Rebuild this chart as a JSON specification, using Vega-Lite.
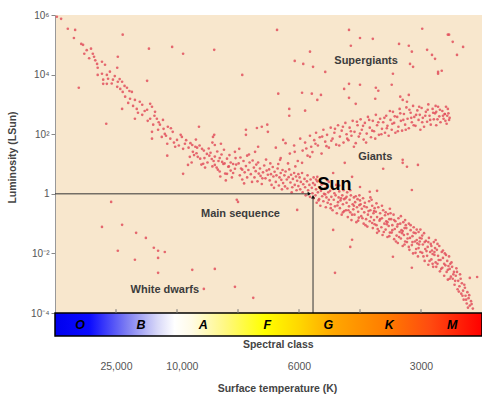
{
"$schema":"https://vega.github.io/schema/vega-lite/v6.json",
"autosize":{"type":"none"},
"padding":{"left":55,"top":15,"right":0,"bottom":64},
"width":427,"height":321,
"config":{"font":"Liberation Sans","view":{"stroke":null,"fill":"#f8e7cd"}},
"datasets":{
"stars":[
{"x":0.03,"l":5.94},{"x":0.10,"l":5.87},{"x":0.21,"l":5.54},{"x":0.33,"l":5.50},{"x":0.31,"l":5.23},{"x":0.43,"l":5.03},{"x":0.46,"l":5.0},{"x":0.48,"l":4.70},{"x":0.59,"l":4.87},{"x":0.62,"l":4.70},{"x":0.64,"l":4.60},{"x":1.11,"l":5.34},{"x":1.03,"l":4.60},{"x":0.69,"l":4.36},{"x":0.77,"l":4.43},{"x":0.82,"l":4.33},{"x":1.02,"l":4.23},{"x":0.70,"l":4.23},{"x":0.70,"l":3.99},{"x":0.77,"l":4.03},{"x":0.85,"l":3.99},{"x":0.79,"l":3.83},{"x":0.87,"l":3.86},{"x":0.95,"l":3.83},{"x":1.03,"l":3.76},{"x":1.10,"l":3.76},{"x":0.79,"l":3.69},{"x":0.85,"l":3.69},{"x":1.02,"l":3.59},{"x":1.07,"l":3.52},{"x":1.18,"l":3.56},{"x":0.39,"l":3.56},{"x":1.51,"l":3.79},{"x":1.11,"l":3.42},{"x":1.26,"l":3.42},{"x":1.15,"l":3.26},{"x":1.23,"l":3.19},{"x":1.31,"l":3.15},{"x":1.39,"l":3.09},{"x":1.43,"l":2.99},{"x":1.56,"l":3.02},{"x":1.59,"l":2.92},{"x":1.10,"l":2.85},{"x":1.34,"l":2.85},{"x":1.51,"l":2.82},{"x":1.64,"l":2.75},{"x":1.31,"l":2.52},{"x":1.43,"l":2.65},{"x":1.56,"l":2.52},{"x":1.67,"l":2.52},{"x":1.77,"l":2.48},{"x":1.61,"l":2.32},{"x":1.72,"l":2.32},{"x":1.85,"l":2.25},{"x":1.59,"l":2.08},{"x":1.69,"l":2.15},{"x":1.80,"l":2.01},{"x":1.93,"l":2.08},{"x":1.59,"l":1.85},{"x":1.75,"l":1.91},{"x":1.89,"l":1.85},{"x":2.0,"l":1.81},{"x":1.84,"l":1.68},{"x":2.08,"l":1.91},{"x":2.13,"l":1.68},{"x":2.25,"l":1.64},{"x":1.97,"l":1.58},{"x":2.10,"l":1.51},{"x":2.26,"l":1.41},{"x":2.36,"l":2.25},{"x":2.41,"l":1.51},{"x":2.34,"l":1.24},{"x":2.49,"l":1.34},{"x":2.57,"l":1.17},{"x":2.21,"l":1.24},{"x":1.84,"l":1.28},{"x":2.18,"l":0.97},{"x":2.43,"l":1.01},{"x":2.62,"l":0.97},{"x":2.74,"l":1.07},{"x":2.84,"l":0.91},{"x":2.95,"l":0.84},{"x":3.07,"l":0.81},{"x":2.67,"l":0.81},{"x":2.82,"l":0.67},{"x":2.10,"l":0.67},{"x":2.61,"l":1.98},{"x":2.62,"l":1.64},{"x":2.72,"l":1.68},{"x":2.95,"l":1.41},{"x":3.02,"l":1.51},{"x":3.15,"l":1.28},{"x":3.28,"l":1.41},{"x":3.33,"l":1.58},{"x":3.13,"l":2.15},{"x":3.13,"l":1.98},{"x":3.39,"l":2.25},{"x":3.48,"l":2.32},{"x":3.07,"l":3.99},{"x":2.61,"l":4.83},{"x":2.10,"l":4.70},{"x":1.92,"l":4.93},{"x":1.54,"l":4.87},{"x":0.84,"l":2.35},
{"x":1.20,"l":3.05},{"x":1.28,"l":2.95},{"x":1.36,"l":2.72},{"x":1.47,"l":2.78},{"x":1.52,"l":2.45},{"x":1.63,"l":2.62},{"x":1.70,"l":2.40},{"x":1.78,"l":2.18},{"x":1.82,"l":1.95},{"x":1.90,"l":2.20},{"x":1.95,"l":1.72},{"x":2.03,"l":1.62},{"x":2.06,"l":1.98},{"x":2.15,"l":1.80},{"x":2.19,"l":1.55},{"x":2.30,"l":1.58},{"x":2.32,"l":1.36},{"x":2.45,"l":1.20},{"x":2.53,"l":1.28},{"x":2.60,"l":1.10},{"x":2.70,"l":1.20},{"x":2.78,"l":1.02},{"x":2.88,"l":0.78},{"x":2.92,"l":1.00},{"x":0.90,"l":4.10},{"x":0.93,"l":3.70},{"x":0.98,"l":3.95},{"x":1.06,"l":3.85},{"x":1.14,"l":3.62},{"x":1.22,"l":3.45},{"x":0.56,"l":4.55},{"x":0.66,"l":4.48},{"x":0.52,"l":4.82},
{"x":2.62,"l":1.25},{"x":2.65,"l":0.88},{"x":2.68,"l":1.10},{"x":2.70,"l":0.75},{"x":2.73,"l":1.32},{"x":2.76,"l":1.00},{"x":2.79,"l":0.68},{"x":2.82,"l":1.18},{"x":2.85,"l":0.92},{"x":2.88,"l":1.05},{"x":2.92,"l":0.70},{"x":2.96,"l":1.20},{"x":2.22,"l":1.70},{"x":2.28,"l":1.30},{"x":2.33,"l":1.55},{"x":2.38,"l":1.18},{"x":2.44,"l":1.45},{"x":2.50,"l":1.05},{"x":2.55,"l":1.38},{"x":2.58,"l":0.92},
{"x":2.24,"l":1.05},{"x":2.31,"l":1.82},{"x":2.37,"l":1.62},{"x":2.46,"l":0.88},{"x":2.52,"l":1.52},{"x":2.58,"l":1.72},{"x":2.66,"l":1.42},{"x":2.71,"l":0.58},{"x":2.77,"l":1.48},{"x":2.86,"l":1.30},{"x":2.90,"l":0.55},{"x":2.97,"l":0.98},{"x":3.04,"l":1.22},{"x":3.10,"l":0.35},{"x":3.18,"l":1.32},{"x":3.24,"l":1.12},{"x":3.33,"l":1.05},{"x":3.40,"l":0.52},{"x":3.46,"l":1.15},{"x":3.53,"l":1.02},{"x":3.59,"l":0.20},{"x":3.66,"l":1.00},{"x":3.72,"l":0.15},{"x":3.82,"l":1.02},{"x":3.88,"l":0.05},{"x":3.94,"l":0.92},{"x":2.40,"l":0.98},{"x":2.80,"l":0.45},
{"x":3.01,"l":1.02},{"x":3.03,"l":0.62},{"x":3.05,"l":0.85},{"x":3.07,"l":0.48},{"x":3.09,"l":1.10},{"x":3.11,"l":0.72},{"x":3.13,"l":0.93},{"x":3.15,"l":0.55},{"x":3.17,"l":0.80},{"x":3.19,"l":1.05},{"x":3.21,"l":0.66},{"x":3.23,"l":0.40},
{"x":3.26,"l":0.88},{"x":3.27,"l":0.55},{"x":3.29,"l":0.76},{"x":3.30,"l":0.98},{"x":3.32,"l":0.42},{"x":3.34,"l":0.68},{"x":3.36,"l":0.85},{"x":3.37,"l":0.60},{"x":3.39,"l":0.33},{"x":3.41,"l":0.72},{"x":3.43,"l":0.95},{"x":3.45,"l":0.52},{"x":3.47,"l":0.78},{"x":3.49,"l":0.64},
{"x":3.51,"l":0.82},{"x":3.52,"l":0.45},{"x":3.54,"l":0.66},{"x":3.55,"l":0.30},{"x":3.57,"l":0.90},{"x":3.58,"l":0.58},{"x":3.60,"l":0.74},{"x":3.62,"l":0.40},{"x":3.63,"l":0.62},{"x":3.65,"l":0.85},{"x":3.67,"l":0.28},{"x":3.68,"l":0.55},{"x":3.70,"l":0.70},{"x":3.71,"l":0.47},{"x":3.73,"l":0.80},{"x":3.74,"l":0.36},
{"x":3.76,"l":0.62},{"x":3.77,"l":0.25},{"x":3.78,"l":0.75},{"x":3.80,"l":0.48},{"x":3.81,"l":0.18},{"x":3.83,"l":0.56},{"x":3.84,"l":0.82},{"x":3.86,"l":0.38},{"x":3.87,"l":0.64},{"x":3.89,"l":0.22},{"x":3.90,"l":0.50},{"x":3.92,"l":0.70},{"x":3.93,"l":0.30},{"x":3.95,"l":0.58},{"x":3.96,"l":0.12},{"x":3.97,"l":0.44},{"x":3.99,"l":0.66},{"x":3.99,"l":0.26},
{"x":4.01,"l":0.55},{"x":4.02,"l":0.15},{"x":4.03,"l":0.40},{"x":4.05,"l":0.70},{"x":4.06,"l":0.05},{"x":4.07,"l":0.32},{"x":4.09,"l":0.50},{"x":4.10,"l":0.22},{"x":4.11,"l":-0.05},{"x":4.13,"l":0.42},{"x":4.14,"l":0.62},{"x":4.15,"l":0.12},{"x":4.17,"l":0.30},{"x":4.18,"l":-0.10},{"x":4.19,"l":0.48},{"x":4.21,"l":0.20},{"x":4.22,"l":0.02},{"x":4.23,"l":0.36},{"x":4.24,"l":0.55},{"x":4.24,"l":-0.15},
{"x":4.26,"l":0.30},{"x":4.27,"l":-0.05},{"x":4.28,"l":0.15},{"x":4.29,"l":-0.30},{"x":4.30,"l":0.42},{"x":4.31,"l":0.05},{"x":4.33,"l":-0.18},{"x":4.34,"l":0.22},{"x":4.35,"l":-0.40},{"x":4.36,"l":0.10},{"x":4.38,"l":-0.08},{"x":4.39,"l":0.35},{"x":4.40,"l":-0.25},{"x":4.41,"l":0.00},{"x":4.42,"l":0.18},{"x":4.44,"l":-0.45},{"x":4.45,"l":-0.12},{"x":4.46,"l":0.25},{"x":4.47,"l":-0.30},{"x":4.48,"l":0.05},{"x":4.49,"l":-0.20},{"x":4.49,"l":0.40},
{"x":4.51,"l":0.10},{"x":4.52,"l":-0.35},{"x":4.53,"l":-0.10},{"x":4.54,"l":0.25},{"x":4.55,"l":-0.55},{"x":4.57,"l":-0.20},{"x":4.58,"l":0.02},{"x":4.59,"l":-0.42},{"x":4.60,"l":-0.05},{"x":4.61,"l":0.30},{"x":4.62,"l":-0.65},{"x":4.64,"l":-0.28},{"x":4.65,"l":-0.12},{"x":4.66,"l":0.08},{"x":4.67,"l":-0.48},{"x":4.68,"l":-0.22},{"x":4.70,"l":-0.70},{"x":4.71,"l":-0.05},{"x":4.72,"l":-0.35},{"x":4.73,"l":0.12},{"x":4.74,"l":-0.58},{"x":4.74,"l":-0.18},
{"x":4.76,"l":-0.15},{"x":4.77,"l":-0.55},{"x":4.78,"l":-0.30},{"x":4.79,"l":0.05},{"x":4.80,"l":-0.78},{"x":4.82,"l":-0.42},{"x":4.83,"l":-0.20},{"x":4.84,"l":-0.62},{"x":4.85,"l":-0.05},{"x":4.86,"l":-0.88},{"x":4.88,"l":-0.35},{"x":4.89,"l":-0.52},{"x":4.90,"l":-0.12},{"x":4.91,"l":-0.70},{"x":4.92,"l":-0.28},{"x":4.94,"l":-0.95},{"x":4.95,"l":-0.45},{"x":4.96,"l":-0.18},{"x":4.97,"l":-0.60},{"x":4.98,"l":-0.80},{"x":4.99,"l":-0.38},{"x":4.99,"l":-0.05},
{"x":5.01,"l":-0.35},{"x":5.02,"l":-0.75},{"x":5.03,"l":-0.50},{"x":5.05,"l":-0.15},{"x":5.06,"l":-1.00},{"x":5.07,"l":-0.62},{"x":5.08,"l":-0.30},{"x":5.10,"l":-0.85},{"x":5.11,"l":-0.45},{"x":5.12,"l":-1.10},{"x":5.13,"l":-0.70},{"x":5.15,"l":-0.25},{"x":5.16,"l":-0.92},{"x":5.17,"l":-0.55},{"x":5.18,"l":-0.78},{"x":5.20,"l":-0.40},{"x":5.21,"l":-1.15},{"x":5.22,"l":-0.65},{"x":5.23,"l":-0.88},{"x":5.24,"l":-0.48},{"x":5.24,"l":-1.02},{"x":5.19,"l":-0.20},
{"x":5.26,"l":-0.60},{"x":5.27,"l":-1.05},{"x":5.28,"l":-0.78},{"x":5.30,"l":-0.45},{"x":5.31,"l":-1.25},{"x":5.32,"l":-0.90},{"x":5.33,"l":-0.65},{"x":5.35,"l":-1.12},{"x":5.36,"l":-0.82},{"x":5.37,"l":-1.38},{"x":5.38,"l":-0.55},{"x":5.40,"l":-1.00},{"x":5.41,"l":-0.72},{"x":5.42,"l":-1.20},{"x":5.43,"l":-0.92},{"x":5.45,"l":-1.45},{"x":5.46,"l":-0.68},{"x":5.47,"l":-1.08},{"x":5.48,"l":-0.85},{"x":5.49,"l":-1.30},{"x":5.49,"l":-0.50},{"x":5.44,"l":-1.02},
{"x":5.51,"l":-0.85},{"x":5.52,"l":-1.30},{"x":5.53,"l":-1.05},{"x":5.55,"l":-0.70},{"x":5.56,"l":-1.52},{"x":5.57,"l":-1.18},{"x":5.58,"l":-0.92},{"x":5.60,"l":-1.40},{"x":5.61,"l":-1.10},{"x":5.62,"l":-1.65},{"x":5.63,"l":-0.82},{"x":5.65,"l":-1.28},{"x":5.66,"l":-1.00},{"x":5.67,"l":-1.50},{"x":5.68,"l":-1.22},{"x":5.70,"l":-1.75},{"x":5.71,"l":-0.95},{"x":5.72,"l":-1.38},{"x":5.73,"l":-1.15},{"x":5.74,"l":-1.60},{"x":5.74,"l":-0.88},{"x":5.69,"l":-1.32},
{"x":5.76,"l":-1.15},{"x":5.77,"l":-1.62},{"x":5.78,"l":-1.35},{"x":5.80,"l":-1.00},{"x":5.81,"l":-1.88},{"x":5.82,"l":-1.48},{"x":5.83,"l":-1.22},{"x":5.85,"l":-1.72},{"x":5.86,"l":-1.42},{"x":5.87,"l":-2.00},{"x":5.88,"l":-1.12},{"x":5.90,"l":-1.60},{"x":5.91,"l":-1.32},{"x":5.92,"l":-1.85},{"x":5.93,"l":-1.55},{"x":5.95,"l":-2.10},{"x":5.96,"l":-1.28},{"x":5.97,"l":-1.70},{"x":5.98,"l":-1.48},{"x":5.99,"l":-1.95},{"x":5.99,"l":-1.20},{"x":5.94,"l":-1.66},
{"x":6.01,"l":-1.50},{"x":6.02,"l":-1.98},{"x":6.03,"l":-1.70},{"x":6.05,"l":-1.32},{"x":6.06,"l":-2.25},{"x":6.07,"l":-1.85},{"x":6.08,"l":-1.58},{"x":6.10,"l":-2.08},{"x":6.11,"l":-1.78},{"x":6.12,"l":-2.38},{"x":6.13,"l":-1.48},{"x":6.15,"l":-1.95},{"x":6.16,"l":-1.68},{"x":6.17,"l":-2.20},{"x":6.18,"l":-1.90},{"x":6.20,"l":-2.45},{"x":6.21,"l":-1.62},{"x":6.22,"l":-2.05},{"x":6.23,"l":-1.82},{"x":6.24,"l":-2.30},{"x":6.24,"l":-1.55},{"x":6.19,"l":-2.02},
{"x":6.26,"l":-1.88},{"x":6.27,"l":-2.35},{"x":6.28,"l":-2.08},{"x":6.30,"l":-1.75},{"x":6.31,"l":-2.60},{"x":6.32,"l":-2.22},{"x":6.34,"l":-1.95},{"x":6.35,"l":-2.48},{"x":6.36,"l":-2.15},{"x":6.38,"l":-2.75},{"x":6.39,"l":-2.00},{"x":6.40,"l":-2.40},{"x":6.42,"l":-2.62},{"x":6.43,"l":-2.25},{"x":6.44,"l":-2.88},{"x":6.46,"l":-2.10},{"x":6.47,"l":-2.52},{"x":6.48,"l":-2.35},{"x":6.49,"l":-2.78},{"x":6.45,"l":-2.42},
{"x":6.51,"l":-2.45},{"x":6.52,"l":-2.85},{"x":6.54,"l":-2.62},{"x":6.55,"l":-3.05},{"x":6.57,"l":-2.75},{"x":6.58,"l":-2.50},{"x":6.60,"l":-3.20},{"x":6.61,"l":-2.92},{"x":6.63,"l":-3.10},{"x":6.64,"l":-2.70},{"x":6.66,"l":-3.35},{"x":6.67,"l":-3.00},{"x":6.69,"l":-3.25},{"x":6.70,"l":-3.55},{"x":6.72,"l":-3.15},{"x":6.73,"l":-3.42},{"x":6.75,"l":-3.68},{"x":6.76,"l":-3.30},{"x":6.78,"l":-3.50},{"x":6.80,"l":-3.75},{"x":6.82,"l":-3.60},{"x":6.85,"l":-3.85},
{"x":4.28,"l":0.48},{"x":4.32,"l":-0.22},{"x":4.37,"l":0.31},{"x":4.43,"l":-0.02},{"x":4.47,"l":0.45},{"x":4.52,"l":-0.48},{"x":4.56,"l":0.16},{"x":4.63,"l":-0.39},{"x":4.66,"l":0.28},{"x":4.69,"l":-0.15},{"x":4.72,"l":-0.62},{"x":4.78,"l":-0.10},{"x":4.81,"l":-0.55},{"x":4.84,"l":0.12},{"x":4.87,"l":-0.70},{"x":4.90,"l":-0.40},{"x":4.93,"l":-0.08},{"x":4.97,"l":-0.90},{"x":5.00,"l":-0.22},{"x":5.04,"l":-0.82},{"x":5.07,"l":-0.42},{"x":5.09,"l":-1.05},{"x":5.14,"l":-0.58},{"x":5.17,"l":-0.12},{"x":5.20,"l":-0.98},{"x":5.23,"l":-0.58},{"x":5.27,"l":-0.32},{"x":5.29,"l":-1.18},{"x":5.33,"l":-0.85},{"x":5.36,"l":-0.40},{"x":5.39,"l":-1.28},{"x":5.42,"l":-0.62},{"x":5.45,"l":-0.95},{"x":5.48,"l":-1.42},{"x":5.50,"l":-0.65},{"x":5.53,"l":-1.22},{"x":5.56,"l":-0.88},{"x":5.59,"l":-1.60},{"x":5.62,"l":-1.02},{"x":5.64,"l":-1.45},{"x":5.67,"l":-0.75},{"x":5.70,"l":-1.25},{"x":5.73,"l":-1.70},{"x":5.75,"l":-1.05},{"x":5.78,"l":-1.50},{"x":5.80,"l":-1.78},{"x":5.83,"l":-1.05},{"x":5.86,"l":-1.62},{"x":5.88,"l":-1.30},{"x":5.91,"l":-1.98},{"x":5.93,"l":-1.20},{"x":5.96,"l":-1.82},{"x":5.98,"l":-1.60},{"x":6.02,"l":-1.40},{"x":6.04,"l":-2.10},{"x":6.06,"l":-1.62},{"x":6.09,"l":-1.92},{"x":6.12,"l":-1.62},{"x":6.14,"l":-2.25},{"x":6.17,"l":-1.75},{"x":6.19,"l":-2.35},{"x":6.22,"l":-1.95},{"x":6.25,"l":-2.45},{"x":6.27,"l":-1.68},{"x":6.29,"l":-2.22},{"x":6.33,"l":-2.52},{"x":6.36,"l":-1.90},{"x":6.38,"l":-2.35},{"x":6.41,"l":-2.05},{"x":6.44,"l":-2.55},{"x":6.47,"l":-2.85},{"x":6.50,"l":-2.30},{"x":6.53,"l":-2.70},{"x":6.56,"l":-2.92},{"x":6.59,"l":-2.62},{"x":6.62,"l":-3.28},{"x":6.65,"l":-2.85},{"x":6.68,"l":-3.42},{"x":6.71,"l":-3.05},{"x":6.74,"l":-3.55},{"x":6.77,"l":-3.82},{"x":6.79,"l":-3.40},{"x":6.83,"l":-3.70},
{"x":3.62,"l":1.55},{"x":3.70,"l":1.20},{"x":3.78,"l":1.70},{"x":3.85,"l":1.35},{"x":3.92,"l":1.62},{"x":3.98,"l":1.10},{"x":4.02,"l":1.85},{"x":4.06,"l":1.45},{"x":4.10,"l":1.72},{"x":4.14,"l":1.28},{"x":4.18,"l":1.95},{"x":4.20,"l":1.58},
{"x":4.22,"l":1.40},{"x":4.25,"l":1.80},{"x":4.28,"l":2.05},{"x":4.31,"l":1.62},{"x":4.34,"l":1.90},{"x":4.37,"l":1.35},{"x":4.40,"l":2.15},{"x":4.43,"l":1.75},{"x":4.46,"l":1.98},{"x":4.49,"l":1.55},{"x":4.52,"l":2.22},{"x":4.55,"l":1.85},{"x":4.58,"l":2.05},{"x":4.61,"l":1.65},{"x":4.64,"l":2.30},{"x":4.67,"l":1.92},{"x":4.70,"l":2.12},{"x":4.73,"l":1.72},{"x":4.76,"l":2.38},{"x":4.78,"l":2.00},
{"x":4.81,"l":1.80},{"x":4.83,"l":2.22},{"x":4.86,"l":1.95},{"x":4.88,"l":2.45},{"x":4.91,"l":2.08},{"x":4.93,"l":1.70},{"x":4.96,"l":2.30},{"x":4.98,"l":1.92},{"x":5.01,"l":2.50},{"x":5.03,"l":2.15},{"x":5.06,"l":1.82},{"x":5.08,"l":2.38},{"x":5.11,"l":2.02},{"x":5.13,"l":2.58},{"x":5.16,"l":2.22},{"x":5.18,"l":1.90},{"x":5.21,"l":2.45},{"x":5.23,"l":2.10},{"x":5.26,"l":2.65},{"x":5.28,"l":2.30},{"x":5.31,"l":1.98},{"x":5.33,"l":2.52},{"x":5.36,"l":2.18},{"x":5.38,"l":2.40},
{"x":5.41,"l":2.05},{"x":5.43,"l":2.62},{"x":5.45,"l":2.28},{"x":5.47,"l":1.95},{"x":5.50,"l":2.48},{"x":5.52,"l":2.15},{"x":5.54,"l":2.75},{"x":5.56,"l":2.38},{"x":5.58,"l":2.05},{"x":5.61,"l":2.58},{"x":5.63,"l":2.25},{"x":5.65,"l":2.85},{"x":5.67,"l":2.45},{"x":5.69,"l":2.12},{"x":5.72,"l":2.68},{"x":5.74,"l":2.32},{"x":5.76,"l":2.90},{"x":5.78,"l":2.52},{"x":5.80,"l":2.20},{"x":5.83,"l":2.72},{"x":5.85,"l":2.40},{"x":5.87,"l":2.95},{"x":5.89,"l":2.58},{"x":5.91,"l":2.28},{"x":5.94,"l":2.80},{"x":5.96,"l":2.48},{"x":5.98,"l":2.65},{"x":5.99,"l":2.15},
{"x":6.01,"l":2.88},{"x":6.03,"l":2.55},{"x":6.05,"l":2.25},{"x":6.08,"l":2.75},{"x":6.10,"l":2.42},{"x":6.12,"l":3.00},{"x":6.14,"l":2.62},{"x":6.16,"l":2.32},{"x":6.19,"l":2.85},{"x":6.21,"l":2.50},{"x":6.23,"l":2.70},{"x":6.25,"l":2.30},{"x":6.28,"l":2.92},{"x":6.30,"l":2.60},{"x":6.32,"l":2.40},{"x":6.35,"l":2.78},{"x":6.37,"l":2.52},{"x":6.39,"l":2.68},{"x":6.42,"l":2.35},{"x":6.44,"l":2.85},{"x":6.47,"l":2.55},{"x":6.45,"l":2.70},{"x":6.40,"l":2.45},{"x":6.43,"l":2.62},
{"x":4.12,"l":1.52},{"x":4.27,"l":1.68},{"x":4.38,"l":1.92},{"x":4.45,"l":1.60},{"x":4.53,"l":1.78},{"x":4.59,"l":2.18},{"x":4.66,"l":1.62},{"x":4.72,"l":2.25},{"x":4.79,"l":1.85},{"x":4.85,"l":2.10},{"x":4.90,"l":1.58},{"x":4.95,"l":2.42},{"x":5.00,"l":2.02},{"x":5.05,"l":2.28},{"x":5.10,"l":1.72},{"x":5.15,"l":2.48},{"x":5.20,"l":2.12},{"x":5.25,"l":1.85},{"x":5.30,"l":2.40},{"x":5.35,"l":2.00},{"x":5.40,"l":2.55},{"x":5.44,"l":2.20},{"x":5.49,"l":2.78},{"x":5.53,"l":2.35},{"x":5.57,"l":2.60},{"x":5.62,"l":2.10},{"x":5.66,"l":2.70},{"x":5.71,"l":2.48},{"x":5.75,"l":2.15},{"x":5.81,"l":2.82},{"x":5.84,"l":2.55},{"x":5.88,"l":2.30},{"x":5.92,"l":2.65},{"x":5.97,"l":2.92},{"x":6.02,"l":2.40},{"x":6.07,"l":2.62},{"x":6.11,"l":2.82},{"x":6.15,"l":2.48},{"x":6.20,"l":2.72},{"x":6.24,"l":2.95},{"x":6.27,"l":2.50},{"x":6.31,"l":2.82},{"x":6.36,"l":2.62},{"x":6.41,"l":2.92},{"x":6.46,"l":2.48},
{"x":3.97,"l":-0.54},{"x":2.98,"l":-0.20},{"x":4.56,"l":-1.21},{"x":4.84,"l":-1.78},{"x":5.54,"l":-2.11},{"x":5.85,"l":-2.48},{"x":5.28,"l":-1.31},{"x":4.59,"l":-2.65},{"x":4.87,"l":-1.54},{"x":6.80,"l":-2.82},{"x":6.92,"l":-2.79},{"x":4.87,"l":0.57},{"x":5.0,"l":0.23},{"x":5.28,"l":0.10},{"x":5.85,"l":0.13},{"x":2.59,"l":1.91},{"x":3.31,"l":2.21},{"x":3.49,"l":2.08},{"x":3.74,"l":1.81},{"x":3.93,"l":1.41},{"x":3.69,"l":1.14},{"x":4.05,"l":1.04},{"x":4.30,"l":0.57},{"x":4.18,"l":1.24},{"x":4.56,"l":0.70},{"x":4.75,"l":1.04},{"x":5.16,"l":0.07},{"x":5.70,"l":1.04},{"x":5.95,"l":0.97},{"x":5.70,"l":1.14},{"x":5.77,"l":0.91},{"x":5.38,"l":0.84},
{"x":0.92,"l":-0.27},{"x":0.77,"l":-1.11},{"x":1.10,"l":-1.04},{"x":1.33,"l":-1.31},{"x":1.49,"l":-1.48},{"x":1.03,"l":-1.91},{"x":1.31,"l":-2.21},{"x":1.62,"l":-1.81},{"x":1.69,"l":-1.91},{"x":1.80,"l":-1.95},{"x":1.69,"l":-2.15},{"x":1.69,"l":-2.65},{"x":2.25,"l":-2.55},{"x":2.62,"l":-2.52},{"x":2.44,"l":-3.19},{"x":2.95,"l":-3.12},{"x":3.25,"l":-3.49},{"x":3.0,"l":-0.27},
{"x":3.64,"l":5.50},{"x":4.82,"l":5.50},{"x":5.0,"l":5.23},{"x":5.21,"l":5.20},{"x":4.85,"l":4.97},{"x":5.64,"l":5.03},{"x":5.80,"l":4.97},{"x":6.02,"l":5.54},{"x":6.46,"l":5.34},{"x":6.52,"l":5.10},{"x":6.69,"l":4.93},{"x":5.85,"l":4.77},{"x":6.10,"l":4.83},{"x":6.18,"l":4.66},{"x":6.23,"l":4.53},{"x":6.59,"l":4.66},{"x":4.18,"l":4.77},{"x":3.93,"l":4.46},{"x":4.07,"l":4.36},{"x":4.23,"l":4.26},{"x":4.43,"l":4.09},{"x":5.82,"l":4.36},{"x":5.87,"l":4.26},{"x":5.54,"l":4.03},{"x":6.28,"l":4.03},{"x":6.34,"l":4.13},{"x":3.66,"l":3.36},{"x":4.05,"l":3.39},{"x":4.21,"l":3.36},{"x":4.36,"l":3.32},{"x":4.30,"l":3.15},{"x":4.74,"l":3.52},{"x":4.82,"l":3.69},{"x":5.0,"l":3.66},{"x":5.26,"l":3.56},{"x":5.30,"l":3.46},{"x":5.52,"l":3.66},{"x":4.82,"l":3.22},{"x":5.25,"l":3.19},{"x":5.66,"l":3.26},{"x":5.70,"l":3.15},{"x":5.80,"l":3.32},{"x":5.77,"l":3.09},{"x":4.93,"l":3.02},{"x":3.84,"l":2.85},{"x":3.84,"l":2.62},{"x":4.10,"l":2.79},{"x":6.39,"l":2.68},{"x":6.25,"l":2.75},{"x":6.44,"l":5.34},{"x":6.28,"l":4.09}
]},
"layer":[
{"data":{"name":"stars"},"mark":{"type":"circle","size":7,"color":"#e2505d","opacity":0.85},
 "encoding":{
  "x":{"field":"x","type":"quantitative","scale":{"domain":[0,7],"nice":false,"zero":false},
   "axis":{"values":[1,2.08,4,6],"labelExpr":"datum.value == 1 ? '25,000' : datum.value == 2.08 ? '10,000' : datum.value == 4 ? '6000' : '3000'","domain":false,"ticks":false,"tickSize":0,"grid":false,"labelPadding":25,"labelFontSize":10.5,"labelColor":"#555555","title":"Surface temperature (K)","titleFontSize":10.5,"titleFontWeight":"bold","titleColor":"#444444","titleX":222,"titleY":52,"titleBaseline":"middle"}},
  "y":{"field":"l","type":"quantitative","scale":{"domain":[-4.77,6],"nice":false,"zero":false},
   "axis":{"values":[-4,-2,0,2,4,6],"labelExpr":"datum.value == 6 ? '10⁶' : datum.value == 4 ? '10⁴' : datum.value == 2 ? '10²' : datum.value == 0 ? '1' : datum.value == -2 ? '10⁻²' : '10⁻⁴'","grid":false,"domainColor":"#999999","tickColor":"#888888","tickSize":4,"labelPadding":2,"labelFontSize":10,"labelColor":"#555555","title":"Luminosity (LSun)","titleFontSize":10.5,"titleFontWeight":"bold","titleColor":"#444444","titleX":-43,"titleY":142,"titleBaseline":"middle"}}
 }},
{"data":{"values":[{}]},"mark":{"type":"rule","color":"#333333","strokeWidth":1},
 "encoding":{"x":{"datum":0,"type":"quantitative"},"x2":{"datum":4.18},"y":{"datum":0,"type":"quantitative"}}},
{"data":{"values":[{}]},"mark":{"type":"rule","color":"#333333","strokeWidth":1},
 "encoding":{"x":{"datum":4.23,"type":"quantitative"},"y":{"datum":-4,"type":"quantitative"},"y2":{"datum":-0.1}}},
{"data":{"values":[{}]},"mark":{"type":"point","shape":"triangle-right","filled":true,"color":"#111111","size":16,"opacity":1},
 "encoding":{"x":{"datum":4.17,"type":"quantitative"},"y":{"datum":0,"type":"quantitative"}}},
{"data":{"values":[{}]},"mark":{"type":"point","shape":"triangle-up","filled":true,"color":"#111111","size":16,"opacity":1},
 "encoding":{"x":{"datum":4.23,"type":"quantitative"},"y":{"datum":-0.1,"type":"quantitative"}}},
{"data":{"values":[{"t":"Supergiants","x":5.10,"l":4.46},{"t":"Giants","x":5.25,"l":1.22},{"t":"Main sequence","x":3.04,"l":-0.67},{"t":"White dwarfs","x":1.80,"l":-3.22}]},
 "mark":{"type":"text","fontSize":11,"fontWeight":"bold","color":"#3c3c3c"},
 "encoding":{"x":{"field":"x","type":"quantitative"},"y":{"field":"l","type":"quantitative"},"text":{"field":"t"}}},
{"data":{"values":[{"t":"Sun","x":4.58,"l":0.30}]},
 "mark":{"type":"text","fontSize":18,"fontWeight":"bold","color":"#000000"},
 "encoding":{"x":{"field":"x","type":"quantitative"},"y":{"field":"l","type":"quantitative"},"text":{"field":"t"}}},
{"data":{"values":[{}]},
 "mark":{"type":"rect","stroke":"#000000","strokeWidth":1.5,
  "fill":{"gradient":"linear","x1":0,"y1":0,"x2":1,"y2":0,"stops":[
   {"offset":0,"color":"#0000ee"},{"offset":0.08,"color":"#0a0aff"},{"offset":0.17,"color":"#8080f2"},{"offset":0.24,"color":"#d8d8f8"},{"offset":0.28,"color":"#ffffff"},{"offset":0.32,"color":"#fffbe6"},{"offset":0.40,"color":"#fff880"},{"offset":0.49,"color":"#ffff00"},{"offset":0.57,"color":"#ffd800"},{"offset":0.65,"color":"#ffa800"},{"offset":0.78,"color":"#ff7a00"},{"offset":0.88,"color":"#ff4a10"},{"offset":1,"color":"#ff0000"}]}},
 "encoding":{"x":{"datum":0,"type":"quantitative"},"x2":{"datum":7},"y":{"datum":-4,"type":"quantitative"},"y2":{"datum":-4.77}}},
{"data":{"values":[{"c":"O","x":0.41},{"c":"B","x":1.41},{"c":"A","x":2.43},{"c":"F","x":3.48},{"c":"G","x":4.48},{"c":"K","x":5.48},{"c":"M","x":6.51}]},
 "mark":{"type":"text","fontSize":12.5,"fontWeight":"bold","fontStyle":"italic","color":"#000000"},
 "encoding":{"x":{"field":"x","type":"quantitative"},"y":{"datum":-4.40,"type":"quantitative"},"text":{"field":"c"}}},
{"data":{"values":[{"x":1},{"x":2},{"x":3},{"x":4},{"x":5},{"x":6}]},
 "mark":{"type":"rule","color":"#777777","strokeWidth":1},
 "encoding":{"x":{"field":"x","type":"quantitative"},"y":{"datum":-4,"type":"quantitative"},"y2":{"datum":-3.87}}},
{"data":{"values":[{}]},
 "mark":{"type":"text","text":"Spectral class","fontSize":10.5,"fontWeight":"bold","color":"#444444"},
 "encoding":{"x":{"datum":3.66,"type":"quantitative"},"y":{"datum":-5.07,"type":"quantitative"}}}
]
}
